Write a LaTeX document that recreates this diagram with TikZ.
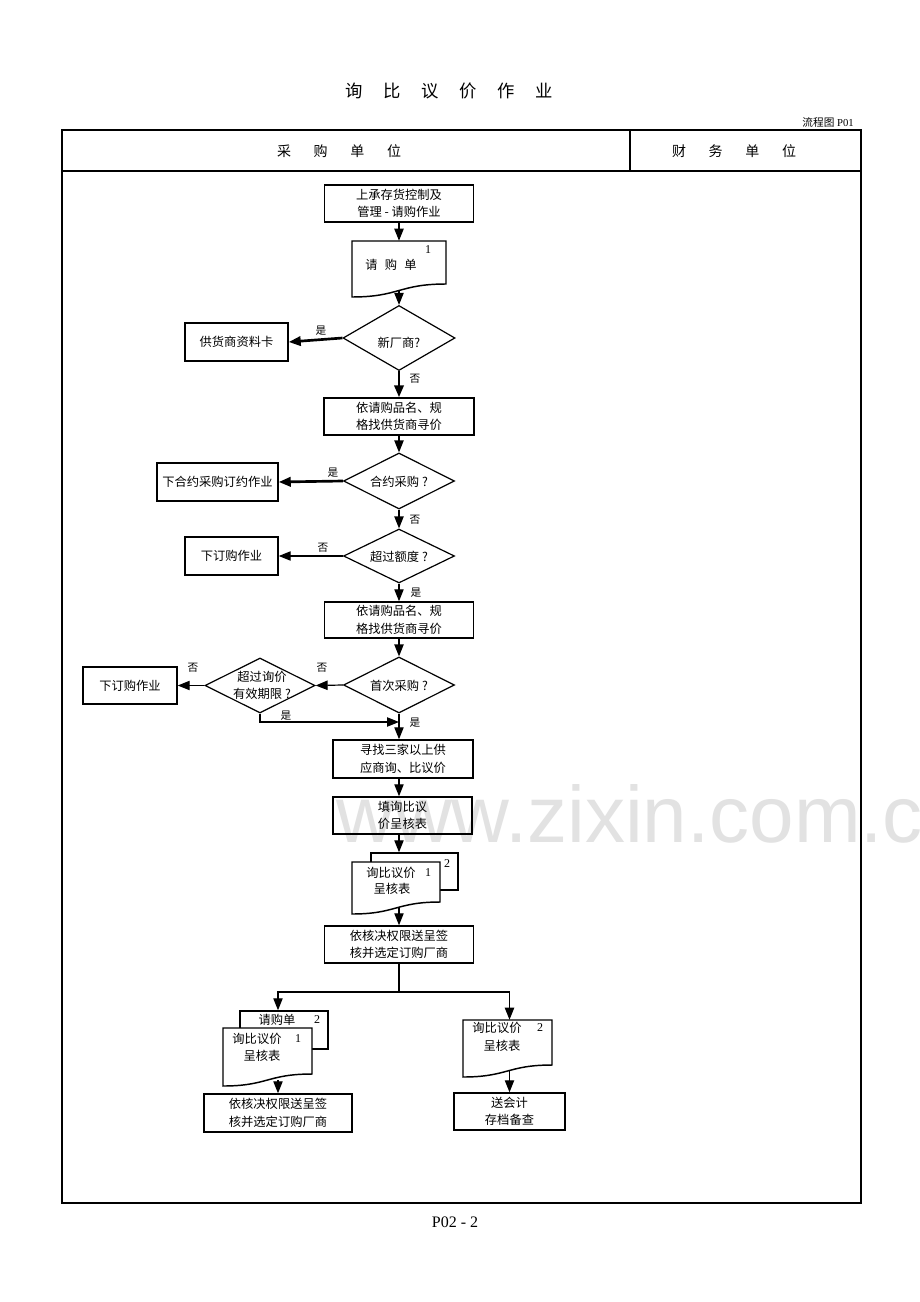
\documentclass[tikz,border=0pt]{standalone}
\usepackage{fontspec}
\setmainfont{Liberation Serif}
\newfontfamily\cjk{Noto Sans CJK SC}
\newfontfamily\wmfont{Liberation Sans}
\usetikzlibrary{arrows.meta,shapes.geometric}
\definecolor{wmgray}{RGB}{226,226,226}
\newcommand\bxfont{\cjk\fontsize{9.2}{13.2}\selectfont}
\newcommand\mkdoc[6]{%
 \draw[docl] (#2,#3) -- (#4,#3) -- (#4,{#5-#6}) .. controls ({(#2+#4)/2},{#5-#6}) and ({(#2+#4)/2},{#5}) .. (#2,#5) -- cycle;
 \node[minimum width={(#4-#2)*0.75pt}, minimum height={(#5-#6/2-#3)*0.75pt}] (#1) at ({(#2+#4)/2},{(#3+#5-#6/2)/2}) {};}
\begin{document}
\begin{tikzpicture}[x=0.75pt,y=-0.75pt,
  every node/.style={inner sep=0pt},
  box/.style 2 args={draw, line width=1.1pt, minimum width=#1*0.75pt, minimum height=#2*0.75pt, align=center, font=\bxfont},
  dia/.style 2 args={draw, diamond, line width=0.9pt, minimum width=#1*0.75pt, minimum height=#2*0.75pt},
  docl/.style={draw, line width=1.1pt, fill=white},
  dtxt/.style={font=\bxfont, align=center},
  arr/.style={-{Triangle[length=9pt,width=7pt]}, line width=0.9pt},
  tarr/.style={-{Triangle[length=9pt,width=7pt]}, line width=2pt},
  lbl/.style={font=\cjk\fontsize{8}{8}\selectfont},
  num/.style={font=\fontsize{9}{9}\selectfont}]
\useasboundingbox (0,0) rectangle (920,1302);
\fill[white] (0,0) rectangle (920,1302);
\clip (0,0) rectangle (920,1302);

% watermark
\node[anchor=base west, font=\wmfont\fontsize{60}{60}\selectfont, text=wmgray] (wm) at (336,842) {www.zixin.com.cn};

% title and frame
\node[font=\cjk\fontsize{13}{13}\selectfont] (title) at (449,91) {询\hspace{15.5pt}比\hspace{15.5pt}议\hspace{15.5pt}价\hspace{15.5pt}作\hspace{15.5pt}业};
\node[anchor=base east, font=\fontsize{8}{8}\selectfont] (flow) at (854,127) {{\cjk 流程图} P01};
\draw[line width=1.1pt] (62,130) rectangle (861,1203);
\draw[line width=2pt] (62,130) -- (861,130);
\draw[line width=1.3pt] (62,171) -- (861,171);
\draw[line width=1pt] (630,130) -- (630,171);
\node[font=\cjk\fontsize{10.5}{10.5}\selectfont] (h1) at (339,151) {采\hspace{17pt}购\hspace{17pt}单\hspace{17pt}位};
\node[font=\cjk\fontsize{10.5}{10.5}\selectfont] (h2) at (734,151) {财\hspace{17pt}务\hspace{17pt}单\hspace{17pt}位};
\node[font=\fontsize{12}{12}\selectfont] (page) at (455,1222) {P02 - 2};

% boxes
\node[box={149}{37}] (A) at (399,203.5) {上承存货控制及\\管理 - 请购作业};
\node[box={103}{38}] (b2) at (236.5,342) {供货商资料卡};
\node[box={150}{37}] (B) at (399,416.5) {依请购品名、规\\格找供货商寻价};
\node[box={121}{38}] (b3) at (217.5,482) {下合约采购订约作业};
\node[box={93}{38}] (b4) at (231.5,556) {下订购作业};
\node[box={149}{36}] (C) at (399,620) {依请购品名、规\\格找供货商寻价};
\node[box={94}{37}] (b5) at (130,685.5) {下订购作业};
\node[box={140}{38}] (D) at (403,759) {寻找三家以上供\\应商询、比议价};
\node[box={139}{37}] (E) at (402.5,815.5) {填询比议\\价呈核表};
\node[box={149}{37}] (F) at (399,944.5) {依核决权限送呈签\\核并选定订购厂商};
\node[box={148}{38}] (G) at (278,1113) {依核决权限送呈签\\核并选定订购厂商};
\node[box={111}{37}] (H) at (509.5,1111.5) {送会计\\存档备查};

% decisions
\node[dia={112}{65}] (D1) at (399,338) {};
\node[dtxt] (D1t) at (399,343) {新厂商?};
\node[dia={111}{56}] (D2) at (399,481) {};
\node[dtxt] (D2t) at (399,482) {合约采购 ?};
\node[dia={111}{54}] (D3) at (399,556) {};
\node[dtxt] (D3t) at (399,557) {超过额度 ?};
\node[dia={111}{56}] (D4) at (399,685) {};
\node[dtxt] (D4t) at (399,686) {首次采购 ?};
\node[dia={110}{55}] (D5) at (260,685.5) {};
\node[dtxt] (D5t) at (262,685.5) {超过询价\\有效期限 ?};

% documents
\mkdoc{d1}{352}{241}{446}{297}{13}
\node[num] (d1n) at (428,250) {1};
\node[dtxt] (d1t) at (391,265) {请\hspace{5.5pt}购\hspace{5.5pt}单};

\node[docl, minimum width=87*0.75pt, minimum height=37*0.75pt] (d2b) at (414.5,871.5) {};
\mkdoc{d2}{352}{862}{440}{914}{12}
\node[num] (d2bn) at (447,864) {2};
\node[dtxt] (d2t1) at (391,873) {询比议价};
\node[num] (d2n) at (428,873) {1};
\node[dtxt] (d2t2) at (392,889) {呈核表};

\node[docl, minimum width=88*0.75pt, minimum height=38*0.75pt] (d4b) at (284,1030) {};
\node[dtxt] (d4bt) at (277,1020) {请购单};
\node[num] (d4bn) at (317,1020) {2};
\mkdoc{d4}{223}{1028}{312}{1086}{12}
\node[dtxt] (d4t1) at (257,1039) {询比议价};
\node[num] (d4n) at (298,1039) {1};
\node[dtxt] (d4t2) at (262,1056) {呈核表};

\mkdoc{d5}{463}{1020}{552}{1077}{12}
\node[dtxt] (d5t1) at (497,1028) {询比议价};
\node[num] (d5n) at (540,1028) {2};
\node[dtxt] (d5t2) at (502,1046) {呈核表};

% connectors
\draw[arr] (A.south) -- (A.south |- d1.north);
\draw[arr] (D1.north |- d1.south) -- (D1.north);
\draw[tarr] (D1.west) -- (b2.east);
\node[lbl] (l1) at (321,331) {是};
\draw[tarr] (D1.south) -- (B.north);
\node[lbl] (l2) at (415,379) {否};
\draw[arr] (B.south) -- (D2.north);
\draw[tarr] (D2.west) -- (b3.east);
\node[lbl] (l3) at (333,473) {是};
\draw[arr] (D2.south) -- (D3.north);
\node[lbl] (l4) at (415,520) {否};
\draw[arr] (D3.west) -- (b4.east);
\node[lbl] (l5) at (323,548) {否};
\draw[arr] (D3.south) -- (C.north);
\node[lbl] (l6) at (416,593) {是};
\draw[arr] (C.south) -- (D4.north);
\draw[arr] (D4.west) -- (D5.east);
\node[lbl] (l7) at (322,668) {否};
\draw[arr] (D5.west) -- (b5.east);
\node[lbl] (l8) at (193,668) {否};
\coordinate (j) at (399,722);
\draw[arr] (D5.south) |- (j);
\node[lbl] (l9) at (286,716) {是};
\draw[arr] (D4.south) -- (D4.south |- D.north);
\node[lbl] (l10) at (415,723) {是};
\draw[arr] (D4.south |- D.south) -- (D4.south |- E.north);
\draw[arr] (D4.south |- E.south) -- (D4.south |- d2b.north);
\draw[arr] (F.north |- d2.south) -- (F.north);
\coordinate (br) at (399,992);
\draw[line width=0.9pt] (F.south) -- (br);
\draw[arr] (br) -| (G.north |- d4b.north);
\draw[arr] (br) -| (H.north |- d5.north);
\draw[arr] (G.north |- d4.south) -- (G.north);
\draw[arr] (H.north |- d5.south) -- (H.north);
\end{tikzpicture}
\end{document}
